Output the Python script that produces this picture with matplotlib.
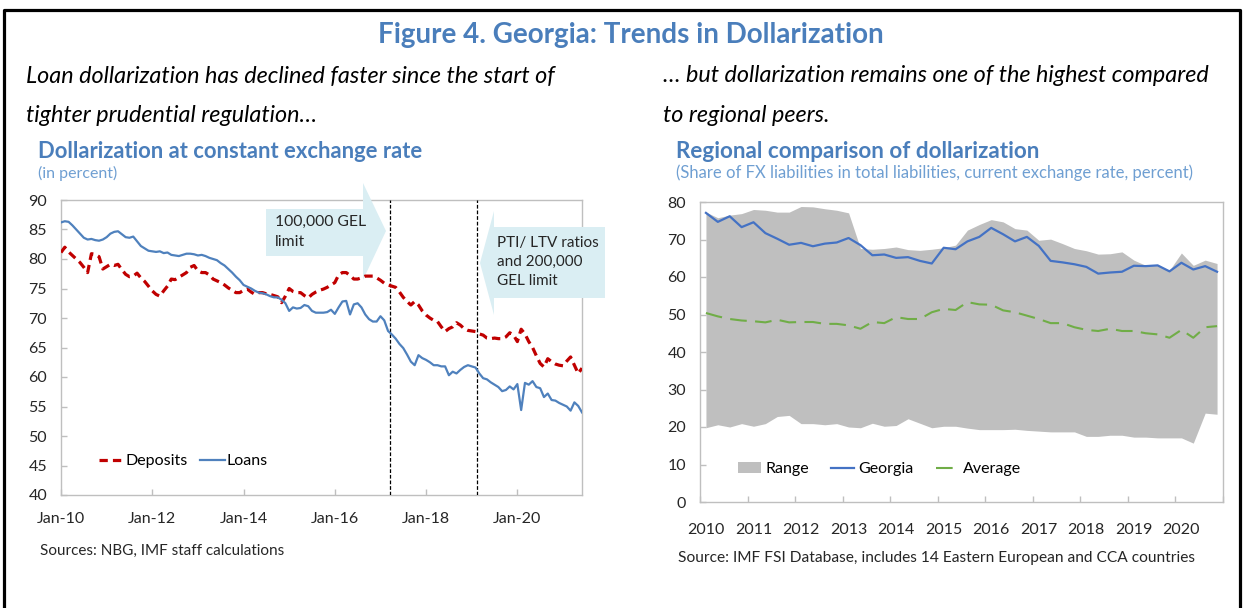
import matplotlib
matplotlib.use('Agg')
import matplotlib.pyplot as plt
from matplotlib.patches import Polygon
from matplotlib.lines import Line2D
import numpy as np

# ---- left panel: monthly, Jan-2010 .. Jun-2021 (percent) ----
loans = [
    86.2, 86.4, 86.3, 85.7, 85.0, 84.3, 83.6, 83.3, 83.4, 83.2, 83.1, 83.3,
    83.7, 84.3, 84.6, 84.7, 84.2, 83.7, 83.6, 83.8, 83.0, 82.2, 81.8, 81.4,
    81.3, 81.2, 81.3, 81.0, 81.1, 80.7, 80.6, 80.5, 80.7, 80.9, 80.9, 80.8,
    80.6, 80.7, 80.5, 80.2, 80.0, 79.8, 79.3, 78.9, 78.3, 77.7, 77.0, 76.4,
    75.6, 75.3, 75.0, 74.6, 74.3, 74.2, 74.0, 73.7, 73.5, 73.5, 73.1, 72.5,
    71.2, 71.8, 71.6, 71.7, 72.2, 72.0, 71.2, 70.9, 70.9, 70.9, 71.0, 71.4,
    70.7, 71.8, 72.8, 72.9, 70.6, 72.3, 72.5, 71.8, 70.6, 69.8, 69.4, 69.4,
    70.3, 69.6, 67.8, 67.2, 66.5, 65.6, 64.9, 63.8, 62.6, 62.0, 63.7, 63.2,
    62.9, 62.5, 62.0, 62.0, 61.8, 61.8, 60.3, 60.9, 60.6, 61.2, 61.7, 62.0,
    61.8, 61.6, 60.6, 59.8, 59.6, 59.1, 58.7, 58.3, 57.6, 57.8, 58.4, 57.9,
    58.8, 54.4, 59.0, 58.7, 59.3, 58.3, 58.1, 56.6, 57.2, 56.1, 56.0, 55.6,
    55.3, 55.0, 54.3, 55.7, 55.1, 54.0,
]
deposits = [
    81.1, 82.0, 81.2, 80.6, 80.0, 79.4, 78.6, 77.7, 80.9, 80.8, 80.4, 78.3,
    78.7, 79.1, 78.9, 79.1, 78.2, 77.4, 77.0, 77.1, 77.6, 76.8, 76.2, 75.4,
    74.6, 74.0, 73.7, 74.6, 75.4, 76.6, 76.5, 76.9, 77.3, 77.7, 78.6, 78.9,
    78.0, 77.7, 77.7, 77.3, 76.6, 76.3, 76.0, 75.6, 75.1, 74.7, 74.3, 74.3,
    74.7, 74.9, 74.4, 74.0, 74.3, 74.3, 74.1, 74.0, 73.8, 73.6, 72.6, 73.7,
    75.0, 74.5, 74.3, 74.3, 73.8, 73.4, 74.0, 74.4, 74.7, 74.9, 75.2, 75.6,
    76.0, 77.3, 77.7, 77.7, 77.2, 76.6, 76.6, 76.8, 77.1, 77.1, 77.1, 76.8,
    76.4, 75.9, 75.6, 75.4, 75.2, 74.4, 73.5, 72.8, 72.2, 72.8, 72.2, 71.2,
    70.5, 70.0, 69.6, 69.4, 68.5, 67.7, 68.2, 68.5, 69.2, 68.8, 68.2, 67.9,
    67.8, 67.7, 67.3, 67.1, 66.6, 66.5, 66.6, 66.5, 66.5, 66.8, 67.5, 67.1,
    66.0, 68.1, 67.3, 66.0, 65.0, 63.6, 62.3, 61.7, 63.1, 62.6, 62.2, 62.0,
    61.9, 62.7, 63.4, 62.0, 60.6, 61.5,
]
months = np.arange(len(loans))
left_ticks = [0, 24, 48, 72, 96, 120]
left_labels = ['Jan-10', 'Jan-12', 'Jan-14', 'Jan-16', 'Jan-18', 'Jan-20']
events = [86.5, 109.5]   # 100,000 GEL limit ; PTI/LTV + 200,000 GEL limit

# ---- right panel: quarterly 2010Q1 .. 2020Q4 (percent) ----
georgia = [77.1, 74.7, 76.2, 73.3, 74.6, 71.7, 70.2, 68.6, 69.1, 68.2, 68.9,
           69.2, 70.4, 68.5, 65.8, 66.0, 65.1, 65.3, 64.3, 63.6, 67.8, 67.4,
           69.5, 70.7, 73.1, 71.4, 69.5, 70.7, 68.3, 64.3, 63.9, 63.4, 62.7,
           60.9, 61.2, 61.4, 63.0, 62.9, 63.1, 61.5, 63.8, 62.0, 62.9, 61.4]
range_hi = [77.3, 75.8, 76.5, 76.9, 78.0, 77.8, 77.3, 77.3, 78.8, 78.7, 78.2,
            77.8, 77.1, 67.6, 67.4, 67.6, 68.0, 67.3, 67.1, 67.4, 67.8, 68.5,
            72.5, 74.0, 75.3, 74.7, 72.9, 72.5, 69.8, 70.1, 68.9, 67.6, 67.0,
            66.1, 66.2, 66.7, 64.5, 63.1, 63.1, 61.8, 66.4, 63.1, 64.5, 63.6]
range_lo = [19.8, 20.6, 20.0, 20.9, 20.2, 20.9, 22.8, 23.1, 20.9, 20.9, 20.6,
            20.9, 20.0, 19.8, 21.0, 20.2, 20.4, 22.2, 21.0, 19.8, 20.2, 20.2,
            19.7, 19.3, 19.3, 19.3, 19.4, 19.1, 18.9, 18.7, 18.7, 18.7, 17.5,
            17.5, 17.8, 17.8, 17.3, 17.3, 17.1, 17.1, 17.1, 15.7, 23.7, 23.4]
average = [50.4, 49.5, 48.8, 48.4, 48.2, 47.9, 48.6, 47.9, 48.0, 48.0, 47.5,
           47.5, 47.1, 46.2, 48.0, 47.7, 49.3, 48.8, 48.8, 50.6, 51.5, 51.2,
           53.3, 52.7, 52.6, 51.1, 50.6, 49.7, 48.8, 47.7, 47.7, 46.6, 45.9,
           45.6, 46.2, 45.6, 45.6, 45.0, 44.7, 43.8, 45.9, 43.8, 46.6, 46.9]
years = [str(y) for y in range(2010, 2021)]
quarters = np.arange(len(georgia))

W, H = 1243, 608
def fx(x):
    return x / W
def fy(y):
    return 1 - y / H
def pts(lst):
    return [(fx(a), fy(b)) for a, b in lst]

plt.rcParams['font.family'] = ['Lato', 'DejaVu Sans']
BLUE_T = '#4a7ebb'
GRAY = '#bfbfbf'
TXT = '#262626'

fig = plt.figure(figsize=(W / 100, H / 100), dpi=100)

# black frame (open at bottom)
fig.add_artist(Line2D([fx(4), fx(4), fx(1240), fx(1240)], [0, fy(10), fy(10), 0],
                      transform=fig.transFigure, color='black', lw=2.3))

fig.text(fx(631), fy(35), 'Figure 4. Georgia: Trends in Dollarization', ha='center', va='center',
         fontsize=20, fontweight='bold', color=BLUE_T)
fig.text(fx(26), fy(76), 'Loan dollarization has declined faster since the start of', ha='left',
         va='center', fontsize=16.8, style='italic', color='black')
fig.text(fx(26), fy(116), 'tighter prudential regulation…', ha='left', va='center', fontsize=16.8,
         style='italic', color='black')
fig.text(fx(663), fy(76), '… but dollarization remains one of the highest compared', ha='left',
         va='center', fontsize=16.8, style='italic', color='black')
fig.text(fx(663), fy(116), 'to regional peers.', ha='left', va='center', fontsize=16.8,
         style='italic', color='black')

fig.text(fx(38), fy(151), 'Dollarization at constant exchange rate', ha='left', va='center',
         fontsize=15.8, fontweight='bold', color=BLUE_T)
fig.text(fx(38), fy(173), '(in percent)', ha='left', va='center', fontsize=11.5, color='#6f9fd2')
fig.text(fx(676), fy(151), 'Regional comparison of dollarization', ha='left', va='center',
         fontsize=16.2, fontweight='bold', color=BLUE_T)
fig.text(fx(676), fy(173), '(Share of FX liabilities in total liabilities, current exchange rate, percent)',
         ha='left', va='center', fontsize=12, color='#6f9fd2')

fig.text(fx(40), fy(551), 'Sources: NBG, IMF staff calculations', ha='left', va='center',
         fontsize=11, color=TXT)
fig.text(fx(678), fy(558), 'Source: IMF FSI Database, includes 14 Eastern European and CCA countries',
         ha='left', va='center', fontsize=11.2, color=TXT)


def style_axes(ax):
    for s in ax.spines.values():
        s.set_color(GRAY)
        s.set_linewidth(1)
        s.set_zorder(1)
    ax.tick_params(axis='both', direction='in', colors=GRAY, labelcolor=TXT, labelsize=11.5,
                   length=4, width=1)
    ax.set_facecolor('none')


# ---- left chart ----
ax1 = fig.add_axes([fx(61), fy(495), fx(582) - fx(61), fy(200) - fy(495)])
style_axes(ax1)
ax1.plot(months, deposits, color='#c00000', lw=2.3, linestyle=(0, (2.6, 1.6)), label='Deposits',
         zorder=3)
ax1.plot(months, loans, color='#4f81bd', lw=1.6, label='Loans', zorder=3)
for e in events:
    ax1.axvline(e, color='black', lw=0.9, linestyle=(0, (3, 1.5)), zorder=2)
ax1.set_xlim(0, 137)
ax1.set_ylim(40, 90)
ax1.set_yticks(range(40, 91, 5))
ax1.set_xticks(left_ticks)
ax1.set_xticklabels(left_labels)
ax1.tick_params(axis='x', pad=12)
ax1.tick_params(axis='y', pad=10)
ax1.legend(loc='center left', bbox_to_anchor=(0.045, 0.115), frameon=False, ncol=2, fontsize=11.5,
           handlelength=1.55, handletextpad=0.1, columnspacing=0.8)

# arrows (figure pixel geometry)
arrow_l = [(266, 209), (363, 209), (363, 183), (386, 231), (363, 280), (363, 256), (266, 256)]
arrow_r = [(605, 227), (494, 227), (494, 211), (480, 263), (494, 315), (494, 298), (605, 298)]
for a in (arrow_l, arrow_r):
    ax1.add_patch(Polygon(pts(a), closed=True, transform=fig.transFigure, clip_on=False,
                          facecolor='#daeef3', edgecolor='none', zorder=1.5))
fig.text(fx(275), fy(222), '100,000 GEL', ha='left', va='center', fontsize=11.3, color=TXT)
fig.text(fx(275), fy(242), 'limit', ha='left', va='center', fontsize=11.3, color=TXT)
fig.text(fx(497), fy(243), 'PTI/ LTV ratios', ha='left', va='center', fontsize=11, color=TXT)
fig.text(fx(497), fy(262), 'and 200,000', ha='left', va='center', fontsize=11, color=TXT)
fig.text(fx(497), fy(281), 'GEL limit', ha='left', va='center', fontsize=11, color=TXT)

# ---- right chart ----
ax2 = fig.add_axes([fx(700), fy(502), fx(1223) - fx(700), fy(202) - fy(502)])
style_axes(ax2)
ax2.fill_between(quarters, range_lo, range_hi, color=GRAY, lw=0, label='Range', zorder=1.2)
ax2.plot(quarters, georgia, color='#4472c4', lw=1.6, label='Georgia', zorder=3)
ax2.plot(quarters, average, color='#70ad47', lw=1.5, linestyle=(0, (8, 4)), label='Average',
         zorder=3)
ax2.set_xlim(-0.5, len(georgia) - 0.5)
ax2.set_ylim(0, 80)
ax2.set_yticks(range(0, 81, 10))
ax2.set_xticks(np.arange(-0.5, len(georgia), 4))
ax2.set_xticklabels([])
ax2.set_xticks(np.arange(0, len(georgia), 4), minor=True)
ax2.set_xticklabels(years, minor=True)
ax2.tick_params(axis='x', which='minor', length=0, pad=15, labelsize=11.5, labelcolor=TXT)
ax2.tick_params(axis='y', pad=10)
ax2.legend(loc='center left', bbox_to_anchor=(0.045, 0.11), frameon=False, ncol=3, fontsize=11.5,
           handlelength=1.45, handletextpad=0.25, columnspacing=1.4)

fig.savefig('out.png', dpi=100)
